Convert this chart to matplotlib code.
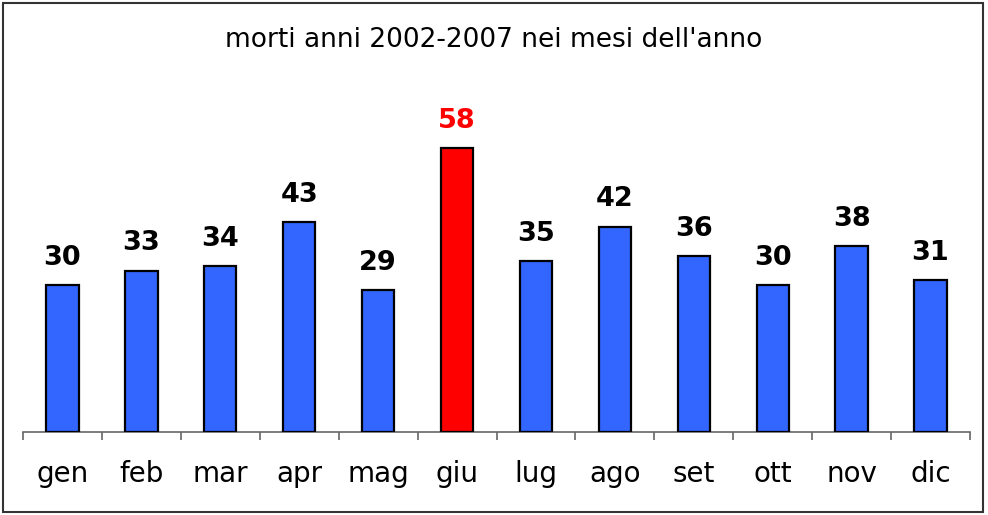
import matplotlib
matplotlib.use('Agg')
import matplotlib.pyplot as plt
import numpy as np

# data
mesi = ["gen", "feb", "mar", "apr", "mag", "giu", "lug", "ago", "set", "ott", "nov", "dic"]
morti = [30, 33, 34, 43, 29, 58, 35, 42, 36, 30, 38, 31]
evidenziato = "giu"

blu = "#3366FF"
rosso = "#FF0000"

fig = plt.figure(figsize=(9.88, 5.15), dpi=100)
ax = fig.add_axes([23 / 988, 83 / 515, 947 / 988, 352 / 515])

x = np.arange(len(mesi))
colori = [rosso if m == evidenziato else blu for m in mesi]
ax.bar(x, morti, width=0.41, color=colori, edgecolor="black", linewidth=1.6, zorder=3)

for xi, v, m in zip(x, morti, mesi):
    c = rosso if m == evidenziato else "black"
    ax.text(xi, v + 2.9, str(v), ha="center", va="bottom", fontsize=19.5,
            fontweight="bold", color=c)

ax.set_xlim(-0.5, len(mesi) - 0.5)
ax.set_ylim(0, 72)

# ticks at category boundaries, labels at centers
ax.set_xticks(np.arange(len(mesi) + 1) - 0.5)
ax.set_xticklabels([])
ax.set_xticks(x, minor=True)
ax.set_xticklabels(mesi, minor=True, fontsize=20)
ax.tick_params(axis="x", which="major", direction="out", length=6, width=1.2, color="#666666")
ax.tick_params(axis="x", which="minor", length=0, pad=20)
ax.set_yticks([])

for s in ["top", "right", "left"]:
    ax.spines[s].set_visible(False)
ax.spines["bottom"].set_color("#666666")
ax.spines["bottom"].set_linewidth(1.2)

fig.text(0.5, 1 - 40 / 515, "morti anni 2002-2007 nei mesi dell'anno",
         ha="center", va="center", fontsize=19)

# outer frame
fig.patches.append(plt.Rectangle((3 / 988, 3 / 515), 980 / 988, 509 / 515,
                                 transform=fig.transFigure, fill=False,
                                 edgecolor="#333333", linewidth=1.5))

fig.savefig("out.png", dpi=100)
